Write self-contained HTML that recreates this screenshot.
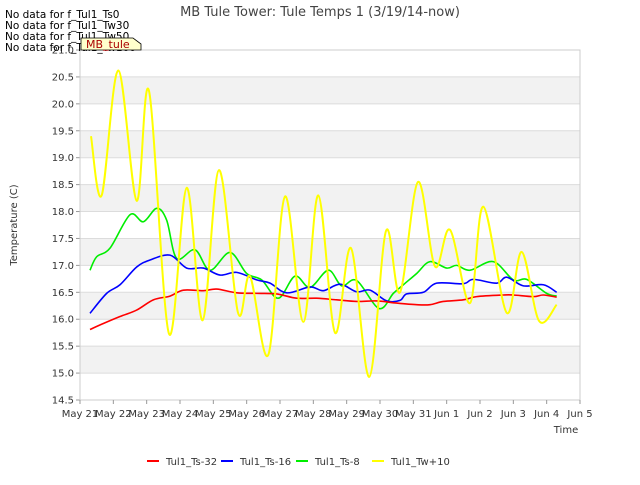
<!DOCTYPE html>
<html><head><meta charset="utf-8"><style>
body{margin:0;background:#fff;font-family:"Liberation Sans","DejaVu Sans",sans-serif}
svg text{font-family:"DejaVu Sans","Liberation Sans",sans-serif}
</style></head><body>
<svg id="c" width="640" height="480" viewBox="0 0 640 480">
<rect x="0" y="0" width="640" height="480" fill="#fff"/>
<text x="320" y="16" text-anchor="middle" font-size="13" fill="#444">MB Tule Tower: Tule Temps 1 (3/19/14-now)</text>
<g id="bands"></g><g id="grid"></g><g id="series"></g><g id="axes"></g>
<text transform="translate(17,225) rotate(-90)" text-anchor="middle" font-size="10" fill="#333">Temperature (C)</text>
<text x="566" y="433" text-anchor="middle" font-size="10" fill="#333">Time</text>
<g id="legend"></g>
<g font-size="10.5" fill="#000">
<text x="5" y="18">No data for f_Tul1_Ts0</text>
<text x="5" y="29">No data for f_Tul1_Tw30</text>
<text x="5" y="40">No data for f_Tul1_Tw50</text>
<text x="5" y="51">No data for f_Tul1_Tw100</text>
</g>
<g>
<path d="M81,38 L133,38 L141,44 L141,50 L81,50 Z" fill="#ffffcc" stroke="#000" stroke-width="0.8"/>
<text x="86" y="48" font-size="11" fill="#aa0000">MB_tule</text>
</g>
</svg>
<script>
const yTicks=[14.5,15.0,15.5,16.0,16.5,17.0,17.5,18.0,18.5,19.0,19.5,20.0,20.5,21.0];
const xTickLabels=["May 21","May 22","May 23","May 24","May 25","May 26","May 27","May 28","May 29","May 30","May 31","Jun 1","Jun 2","Jun 3","Jun 4","Jun 5"];
const seriesNames=["Tul1_Ts-32","Tul1_Ts-16","Tul1_Ts-8","Tul1_Tw+10"];
const seriesColors=["#ff0000","#0000ff","#00ee00","#ffff00"];
const redT=[0.3,0.7,1.2,1.7,2.2,2.7,3.1,3.7,4.1,4.7,5.3,5.9,6.5,7.1,7.7,8.3,8.9,9.5,10.1,10.5,10.9,11.5,11.9,12.7,13.0,13.6,13.9,14.3];
const redV=[15.81,15.92,16.05,16.17,16.36,16.43,16.54,16.53,16.56,16.49,16.48,16.47,16.39,16.39,16.36,16.33,16.34,16.3,16.27,16.27,16.33,16.36,16.42,16.45,16.45,16.42,16.45,16.41];
const blueT=[0.3,0.8,1.2,1.7,2.1,2.7,3.2,3.7,4.2,4.7,5.3,5.7,6.2,6.9,7.3,7.8,8.3,8.7,9.2,9.6,9.8,10.3,10.7,11.5,11.8,12.5,12.8,13.3,13.9,14.3];
const blueV=[16.11,16.48,16.64,16.97,17.1,17.19,16.95,16.95,16.82,16.87,16.73,16.67,16.49,16.6,16.53,16.65,16.51,16.54,16.34,16.35,16.47,16.5,16.67,16.66,16.74,16.67,16.78,16.62,16.64,16.5];
const greenT=[0.3,0.5,0.9,1.5,1.9,2.3,2.6,2.9,3.45,3.9,4.5,5.0,5.45,5.95,6.45,6.9,7.45,7.85,8.3,8.97,9.4,9.7,10.1,10.5,11.0,11.3,11.7,12.4,13.0,13.4,14.0,14.3];
const greenV=[16.91,17.16,17.32,17.94,17.81,18.06,17.84,17.13,17.29,16.91,17.24,16.85,16.73,16.39,16.8,16.59,16.91,16.62,16.72,16.2,16.48,16.64,16.85,17.07,16.95,17.0,16.91,17.07,16.73,16.74,16.48,16.43];
const yellowT=[0.33,0.65,1.15,1.7,2.07,2.67,3.2,3.68,4.17,4.74,5.1,5.65,6.15,6.7,7.15,7.65,8.13,8.68,9.18,9.6,10.14,10.65,11.1,11.7,12.1,12.8,13.25,13.77,14.3];
const yellowV=[19.4,18.3,20.62,18.2,20.24,15.73,18.44,15.98,18.77,16.12,16.8,15.34,18.28,15.95,18.3,15.75,17.32,14.93,17.64,16.5,18.55,16.98,17.66,16.3,18.09,16.12,17.25,15.97,16.27];
const X0=80,X1=580,Y0=50,Y1=400;
const xs=t=>X0+t*(X1-X0)/15;
const ys=v=>Y1-(v-14.5)*(Y1-Y0)/6.5;
const NS="http://www.w3.org/2000/svg";
function mk(tag,attrs,parent){const e=document.createElementNS(NS,tag);for(const k in attrs)e.setAttribute(k,attrs[k]);parent.appendChild(e);return e;}
const bands=document.getElementById('bands'),grid=document.getElementById('grid'),axes=document.getElementById('axes'),ser=document.getElementById('series'),leg=document.getElementById('legend');
for(let i=0;i<yTicks.length-1;i++){
  if(i%2===1){const r=mk('rect',{x:X0,y:ys(yTicks[i+1]),width:X1-X0,height:ys(yTicks[i])-ys(yTicks[i+1]),fill:'#f2f2f2'},bands);
  
  }
}
yTicks.forEach(v=>{
  const l=mk('line',{x1:X0,x2:X1,y1:ys(v),y2:ys(v),stroke:'#dcdcdc','stroke-width':1},grid);
  
  
  const tk=mk('line',{x1:X0-4,x2:X0,y1:ys(v),y2:ys(v),stroke:'#999'},axes);
  
  
  const t=mk('text',{x:X0-6,y:ys(v)+3.5,'text-anchor':'end','font-size':10,fill:'#333'},axes);
  t.textContent=v.toFixed(1);
  
  
});
const fr=mk('rect',{x:X0,y:Y0,width:X1-X0,height:Y1-Y0,fill:'none',stroke:'#ccc'},axes);


xTickLabels.forEach((s,i)=>{
  const tk=mk('line',{x1:xs(i),x2:xs(i),y1:Y1,y2:Y1+4,stroke:'#999'},axes);
  
  
  const t=mk('text',{x:xs(i),y:Y1+17,'text-anchor':'middle','font-size':10,fill:'#333'},axes);
  t.textContent=s;
  
  
});
function pathFor(T,V){
  const p=T.map((t,i)=>[xs(t),ys(V[i])]);
  let d='M'+p[0][0]+','+p[0][1];
  for(let i=0;i<p.length-1;i++){
    const a=p[Math.max(0,i-1)],b=p[i],c=p[i+1],e=p[Math.min(p.length-1,i+2)];
    const c1=[b[0]+(c[0]-a[0])/6,b[1]+(c[1]-a[1])/6],c2=[c[0]-(e[0]-b[0])/6,c[1]-(e[1]-b[1])/6];
    d+=' C'+c1+' '+c2+' '+c;
  }
  return d;
}
const allT=[redT,blueT,greenT,yellowT],allV=[redV,blueV,greenV,yellowV],names=['series-ts-32','series-ts-16','series-ts-8','series-tw-plus10'];
[2,1,0,3].forEach(i=>{
  const p=mk('path',{d:pathFor(allT[i],allV[i]),fill:'none',stroke:seriesColors[i],'stroke-width':i===3?2:1.6,'stroke-linejoin':'round'},ser);
  
  
});
const lx=[147,221,296,372];
seriesNames.forEach((n,i)=>{
  const g=mk('g',{},leg);
  
  
  mk('line',{x1:lx[i],x2:lx[i]+12,y1:461,y2:461,stroke:seriesColors[i],'stroke-width':2},g);
  const t=mk('text',{x:lx[i]+19,y:465,'font-size':10,fill:'#333'},g);
  t.textContent=n;
});
</script>
</body></html>
